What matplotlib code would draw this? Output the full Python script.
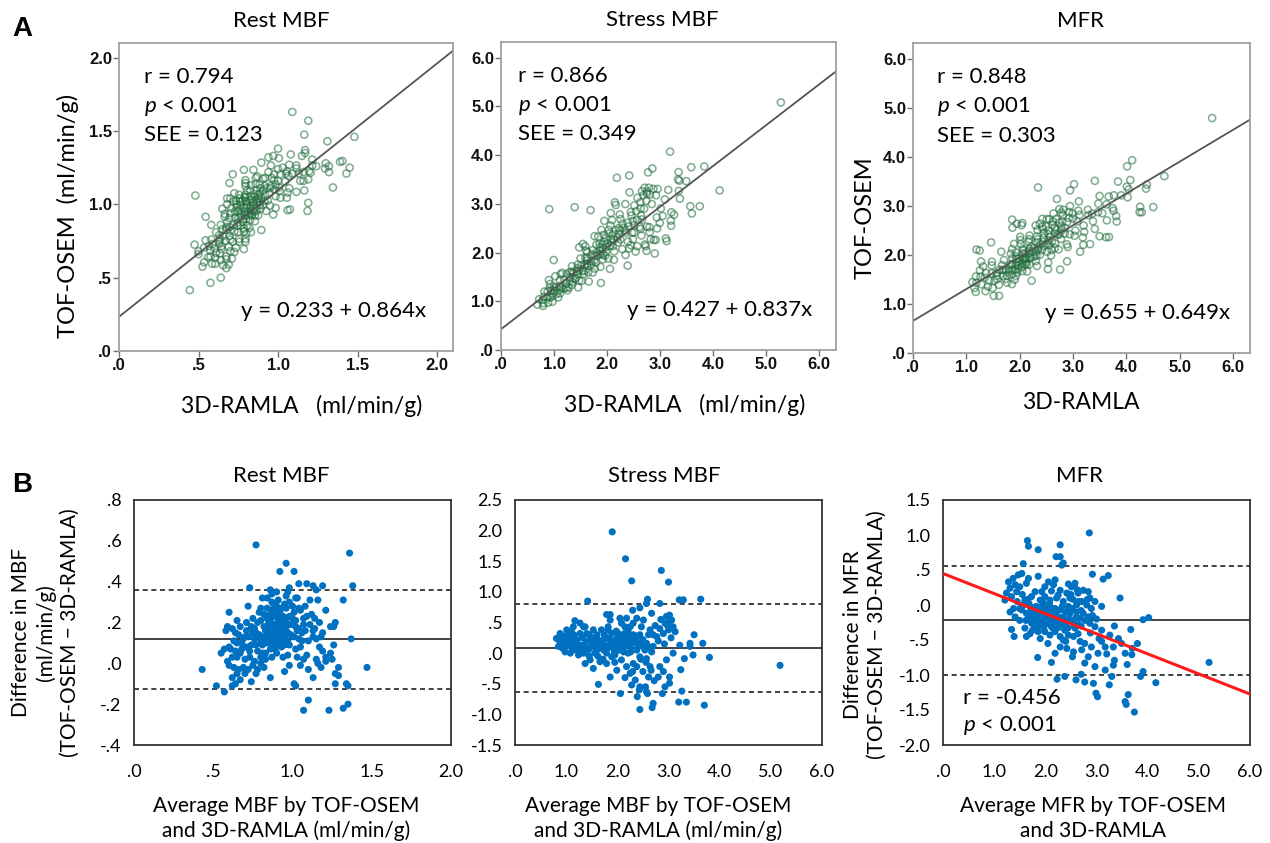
import numpy as np
import matplotlib
matplotlib.use("Agg")
import matplotlib.pyplot as plt

plt.rcParams['font.family'] = ['Lato', 'DejaVu Sans']
plt.rcParams['mathtext.fontset'] = 'custom'
plt.rcParams['mathtext.it'] = 'Lato:italic'
plt.rcParams['mathtext.rm'] = 'Lato'

# (average, difference) pairs
# 3D-RAMLA = avg - diff/2, TOF-OSEM = avg + diff/2
rest_pts = [
    (0.77, 0.58), (1.36, 0.54), (0.96, 0.49), (0.92, 0.45), (1.01, 0.45), (1.04, 0.39), (1.09, 0.39),
    (1.13, 0.38), (1.15, 0.36), (1.19, 0.38), (1.38, 0.38), (0.73, 0.37), (0.86, 0.36), (0.87, 0.34),
    (0.98, 0.37), (0.97, 0.35), (1.02, 0.32), (1.03, 0.32), (1.11, 0.31), (1.16, 0.31), (1.32, 0.31),
    (0.81, 0.32), (0.72, 0.28), (0.88, 0.29), (0.98, 0.30), (1.21, 0.26), (0.60, 0.25), (0.80, 0.27),
    (0.84, 0.27), (0.90, 0.25), (0.92, 0.26), (0.96, 0.27), (1.04, 0.27), (1.01, 0.25), (1.07, 0.22),
    (1.14, 0.22), (1.27, 0.20), (1.26, 0.18), (1.24, 0.18), (0.75, 0.22), (0.80, 0.21), (0.65, 0.21),
    (0.59, 0.18), (0.62, 0.17), (0.58, 0.16), (0.67, 0.18), (0.71, 0.16), (0.74, 0.18), (0.82, 0.18),
    (0.85, 0.20), (0.87, 0.16), (0.90, 0.19), (0.93, 0.17), (0.96, 0.16), (1.00, 0.19), (1.04, 0.17),
    (1.07, 0.19), (1.08, 0.16), (1.13, 0.16), (1.14, 0.17), (1.13, 0.13), (1.18, 0.13), (1.37, 0.12),
    (1.19, 0.15), (0.77, 0.15), (0.81, 0.13), (0.84, 0.15), (0.86, 0.13), (0.88, 0.14), (0.90, 0.12),
    (0.92, 0.15), (0.95, 0.13), (0.97, 0.11), (1.01, 0.13), (0.69, 0.12), (0.72, 0.13), (0.65, 0.10),
    (0.63, 0.11), (0.60, 0.08), (0.57, 0.07), (0.61, 0.07), (0.64, 0.06), (0.68, 0.07), (0.71, 0.08),
    (0.74, 0.09), (0.81, 0.09), (0.85, 0.10), (0.88, 0.09), (0.90, 0.10), (0.93, 0.08), (0.98, 0.09),
    (1.02, 0.07), (1.05, 0.08), (1.09, 0.04), (1.17, 0.08), (1.26, 0.09), (0.55, 0.05), (0.59, 0.01),
    (0.62, 0.03), (0.65, 0.03), (0.67, 0.05), (0.70, 0.02), (0.73, 0.03), (0.76, 0.01), (0.80, 0.03),
    (0.83, 0.02), (0.87, 0.03), (0.90, 0.05), (0.94, 0.03), (0.97, 0.04), (1.03, 0.03), (1.07, 0.02),
    (1.15, 0.02), (1.21, 0.03), (0.43, -0.03), (1.47, -0.02), (0.60, -0.01), (0.63, -0.02), (0.66, -0.03),
    (0.69, -0.02), (0.72, -0.03), (0.75, -0.01), (0.78, -0.03), (0.82, -0.02), (0.86, -0.07), (0.95, -0.04),
    (0.98, -0.01), (1.13, -0.07), (1.18, -0.02), (1.27, -0.05), (1.29, -0.02), (1.29, -0.06), (0.62, -0.07),
    (0.65, -0.05), (0.64, -0.10), (0.62, -0.11), (0.67, -0.08), (0.52, -0.11), (0.57, -0.14), (0.74, -0.09),
    (1.02, -0.11), (1.01, -0.10), (1.27, -0.10), (1.34, -0.10), (1.35, -0.11), (1.10, -0.18), (1.07, -0.23),
    (1.23, -0.23), (1.32, -0.22), (1.35, -0.20), (0.88, 0.23), (0.91, 0.21), (0.94, 0.23), (0.89, 0.18),
    (0.84, 0.22), (0.95, 0.20), (0.92, 0.25), (0.86, 0.24), (0.98, 0.23), (1.02, 0.21), (0.83, 0.16),
    (0.80, 0.11), (0.76, 0.12), (0.88, 0.11), (0.91, 0.09), (0.78, 0.06), (0.83, 0.05), (0.86, 0.07),
    (0.94, 0.11), (0.91, 0.16), (0.97, 0.15), (1.03, 0.16), (1.06, 0.15), (1.10, 0.11), (1.11, 0.19),
    (1.09, 0.23), (1.05, 0.26), (1.00, 0.28), (0.95, 0.29), (0.91, 0.31), (0.87, 0.30), (1.05, -0.01),
    (1.10, -0.03), (1.16, 0.00), (1.21, 0.01), (1.24, 0.05), (1.19, 0.06), (1.25, 0.02),
    (0.78, 0.20), (0.79, 0.14), (0.82, 0.24), (0.83, 0.10), (0.85, 0.17), (0.86, 0.21), (0.87, 0.11),
    (0.88, 0.19), (0.89, 0.26), (0.89, 0.07), (0.90, 0.15), (0.91, 0.23), (0.92, 0.12), (0.93, 0.20),
    (0.93, 0.27), (0.94, 0.15), (0.95, 0.09), (0.96, 0.22), (0.97, 0.19), (0.99, 0.14), (1.00, 0.22),
    (1.02, 0.18), (0.76, 0.17), (0.79, 0.25), (0.84, 0.12), (0.87, 0.26), (0.90, 0.28), (0.95, 0.17),
    (0.98, 0.19), (1.04, 0.12), (0.70, 0.13), (0.73, 0.06), (0.75, 0.15), (0.77, 0.09), (0.81, 0.05),
    (0.68, 0.10), (0.66, 0.14), (0.71, 0.20), (0.64, 0.15), (0.84, 0.32), (0.90, 0.35), (0.96, 0.33),
    (0.80, 0.00), (0.70, -0.05), (0.77, -0.05), (1.12, 0.24), (1.17, 0.20), (1.08, 0.28), (1.06, 0.11),
    (1.15, 0.12),
]

stress_pts = [
    (1.90, 1.98), (2.16, 1.54), (2.86, 1.35), (2.28, 1.18), (3.00, 1.16), (1.42, 0.85), (2.59, 0.88),
    (2.57, 0.81), (2.83, 0.81), (3.21, 0.87), (3.29, 0.87), (3.63, 0.88), (2.30, 0.70), (2.44, 0.74),
    (1.79, 0.63), (1.86, 0.63), (1.17, 0.53), (2.67, 0.65), (2.96, 0.60), (3.02, 0.62), (2.93, 0.49),
    (3.06, 0.54), (3.09, 0.43), (3.00, 0.38), (2.90, 0.32), (2.83, 0.40), (3.13, 0.35), (2.77, 0.27),
    (2.64, 0.38), (2.51, 0.54), (2.31, 0.49), (2.21, 0.35), (2.08, 0.49), (2.25, 0.43), (2.47, 0.43),
    (2.61, 0.30), (3.50, 0.30), (3.67, 0.16), (3.42, 0.16), (3.42, 0.11), (3.80, -0.07), (3.31, -0.09),
    (3.24, -0.27), (3.48, -0.03), (3.22, 0.13), (3.09, 0.00), (2.96, -0.11), (2.83, -0.22), (2.90, -0.30),
    (3.02, -0.39), (2.80, -0.39), (2.93, -0.55), (3.02, -0.49), (2.88, -0.66), (3.26, -0.62), (2.64, -0.22),
    (2.57, -0.09), (2.61, -0.39), (2.39, -0.71), (2.57, -0.63), (2.06, -0.66), (1.63, -0.51), (2.25, -0.33),
    (2.35, -0.44), (2.28, -0.52), (2.44, -0.55), (2.18, -0.22), (1.99, -0.28), (1.86, -0.39), (1.79, -0.17),
    (1.53, -0.25), (1.47, -0.11), (1.37, -0.17), (1.66, -0.14), (1.89, -0.06), (2.08, -0.11), (2.31, -0.17),
    (2.44, -0.06), (2.38, -0.22), (0.88, 0.32), (0.91, 0.24), (0.88, 0.16), (0.93, 0.08), (0.98, 0.02),
    (1.08, 0.27), (1.04, 0.13), (1.14, 0.05), (1.21, 0.21), (1.27, 0.32), (1.34, 0.43), (1.30, 0.13),
    (1.37, 0.05), (1.47, 0.21), (1.50, 0.11), (1.60, 0.30), (1.66, 0.16), (1.73, 0.05), (1.76, 0.27),
    (1.82, 0.38), (1.86, 0.16), (1.92, 0.08), (1.99, 0.24), (2.02, 0.32), (2.05, 0.13), (2.12, 0.02),
    (2.18, 0.21), (2.25, 0.11), (2.35, 0.21), (2.38, 0.05), (2.47, 0.13), (2.54, 0.05), (1.01, 0.38),
    (1.14, 0.43), (1.40, 0.32), (1.53, 0.38), (1.69, 0.38), (1.89, 0.32), (2.08, 0.27), (2.31, 0.30),
    (1.08, 0.00), (1.24, -0.03), (1.34, 0.00), (1.56, 0.00), (1.60, 0.05), (1.79, 0.00), (1.95, -0.03),
    (2.21, 0.00), (0.98, 0.21), (1.17, 0.13), (1.40, 0.19), (1.56, 0.16), (1.73, 0.21), (1.95, 0.16),
    (2.15, 0.11), (2.41, 0.19), (2.57, 0.16), (2.67, 0.02), (2.70, 0.11), (2.44, 0.30), (1.86, 0.54),
    (2.05, 0.57), (2.38, 0.57), (2.18, 0.57), (1.82, 0.43), (2.15, 0.43), (1.37, 0.43), (1.27, 0.49),
    (1.47, 0.27), (0.81, 0.24), (0.85, 0.11), (1.11, 0.21), (1.04, 0.32), (5.18, -0.20), (2.44, -0.92),
    (2.68, -0.89), (2.70, -0.82), (3.70, -0.85), (3.35, -0.80), (3.20, -0.80), (2.59, -0.66), (2.43, -0.60),
    (2.55, -0.55), (1.22, 0.08), (1.44, 0.06), (1.68, 0.10), (1.88, 0.12), (2.00, 0.04), (2.10, 0.18),
    (1.15, 0.30), (1.56, 0.24), (1.98, 0.36), (2.24, 0.26), (1.28, 0.00), (1.62, -0.05), (1.76, 0.12),
    (1.00, 0.15), (1.06, 0.20), (1.10, 0.10), (1.16, 0.25), (1.20, 0.15), (1.25, 0.05), (1.32, 0.25),
    (1.36, 0.12), (1.42, 0.08), (1.45, 0.30), (1.52, 0.18), (1.58, 0.08), (1.62, 0.22), (1.70, 0.15),
    (1.74, 0.30), (1.80, 0.08), (1.84, 0.24), (1.90, 0.20), (1.94, 0.03), (2.00, 0.15), (2.04, 0.25),
    (2.10, 0.08), (2.14, 0.32), (2.20, 0.14), (2.26, 0.02), (2.30, 0.17), (2.36, 0.28), (2.40, 0.10),
    (2.46, -0.10), (2.50, 0.22), (2.56, -0.15), (2.62, 0.10), (2.70, 0.30), (2.74, 0.45), (2.80, 0.20),
    (2.85, 0.55), (2.92, 0.15), (2.98, 0.45), (3.05, 0.25), (3.00, 0.50), (2.30, -0.30), (2.15, -0.40),
    (2.50, -0.30), (2.66, -0.28), (2.72, -0.45), (1.95, -0.15), (1.72, -0.10), (1.45, -0.05), (1.10, 0.35),
    (0.95, 0.28),
]

mfr_pts = [
    (2.86, 1.03), (1.65, 0.92), (1.67, 0.84), (1.86, 0.79), (2.29, 0.86), (2.21, 0.69), (2.29, 0.69),
    (2.32, 0.57), (2.35, 0.60), (1.57, 0.59), (2.92, 0.44), (3.13, 0.37), (3.23, 0.42), (3.46, 0.10),
    (3.91, -0.21), (4.02, -0.18), (3.67, -0.35), (1.85, -0.75), (2.12, -0.82), (2.23, -1.06), (2.38, -1.02),
    (2.60, -1.07), (2.70, -0.99), (2.77, -1.10), (2.94, -1.12), (2.99, -1.26), (3.02, -1.31), (3.25, -1.14),
    (3.30, -1.02), (3.62, -1.28), (3.56, -1.38), (3.58, -1.42), (3.74, -1.53), (3.86, -1.02), (3.91, -0.95),
    (4.16, -1.11), (3.33, -0.86), (3.35, -0.79), (1.34, -0.35), (1.39, -0.45), (1.63, -0.45), (1.28, 0.33),
    (1.37, 0.38), (1.47, 0.43), (1.54, 0.45), (1.41, 0.29), (1.31, 0.24), (1.24, 0.17), (1.21, 0.07),
    (1.34, 0.12), (1.44, 0.19), (1.50, 0.26), (1.63, 0.31), (1.67, 0.38), (1.86, 0.41), (2.06, 0.33),
    (1.99, 0.26), (2.16, 0.29), (2.19, 0.36), (2.12, 0.20), (2.29, 0.21), (2.42, 0.17), (2.51, 0.26),
    (2.58, 0.31), (2.48, 0.10), (1.60, 0.07), (1.73, 0.12), (1.80, 0.19), (1.93, 0.19), (1.90, 0.07),
    (1.99, 0.12), (2.09, 0.07), (2.22, 0.10), (2.35, 0.05), (2.64, 0.17), (2.74, 0.21), (2.84, 0.19),
    (2.87, 0.10), (2.71, 0.05), (2.97, 0.05), (3.10, -0.02), (2.90, -0.05), (2.81, 0.00), (2.61, 0.00),
    (1.54, -0.07), (1.63, -0.12), (1.67, -0.19), (1.73, -0.14), (1.80, -0.22), (1.86, -0.14), (1.93, -0.22),
    (1.96, -0.29), (2.03, -0.17), (2.06, -0.24), (2.12, -0.31), (2.16, -0.17), (2.22, -0.24), (2.29, -0.07),
    (2.35, -0.17), (2.42, -0.24), (2.48, -0.12), (2.55, -0.22), (2.61, -0.10), (2.68, -0.19), (2.74, -0.12),
    (2.84, -0.17), (2.87, -0.26), (1.80, -0.31), (1.86, -0.38), (1.99, -0.38), (2.09, -0.43), (2.19, -0.38),
    (2.29, -0.45), (2.38, -0.36), (2.45, -0.43), (2.58, -0.33), (2.64, -0.41), (1.60, -0.33), (1.70, -0.41),
    (1.50, -0.22), (1.41, -0.17), (1.31, -0.10), (1.57, 0.00), (1.70, -0.02), (1.83, -0.05), (1.93, -0.02),
    (2.06, -0.07), (2.19, -0.05), (1.73, -0.26), (1.90, -0.29), (1.99, -0.26), (2.42, -0.62), (2.55, -0.67),
    (2.77, -0.55), (2.84, -0.74), (2.53, -0.74), (2.90, -0.60), (3.03, -0.69), (3.10, -0.52), (3.17, -0.60),
    (3.26, -0.43), (3.33, -0.60), (3.43, -0.48), (3.49, -0.55), (3.56, -0.69), (3.69, -0.71), (2.97, -0.31),
    (3.10, -0.36), (2.68, -0.52), (2.29, -0.60), (2.19, -0.69), (2.97, -0.88), (2.77, -0.83), (3.17, -0.93),
    (2.71, -0.64), (5.20, -0.82), (3.80, -0.55), (3.60, -0.85), (3.70, -0.62), (1.76, -0.09), (1.89, -0.11),
    (2.01, -0.13), (2.13, -0.10), (2.25, -0.20), (2.02, -0.21), (1.85, -0.26), (2.15, -0.33), (2.32, -0.28),
    (1.95, -0.05), (2.08, 0.02), (1.68, 0.02), (2.45, -0.02), (2.54, 0.08), (2.70, -0.30), (2.40, -0.52),
    (1.72, -0.05), (1.78, -0.17), (1.82, -0.02), (1.88, -0.20), (1.92, -0.10), (1.97, -0.32), (2.00, -0.18),
    (2.04, -0.03), (2.08, -0.27), (2.11, -0.15), (2.15, -0.05), (2.18, -0.24), (2.21, -0.13), (2.26, -0.32),
    (2.30, -0.18), (2.33, -0.02), (2.37, -0.28), (2.40, -0.10), (2.44, -0.33), (2.47, -0.20), (2.52, -0.05),
    (2.56, -0.30), (2.60, -0.18), (2.65, 0.05), (2.70, -0.08), (2.78, -0.22), (2.82, 0.08), (2.92, -0.15),
    (3.00, -0.20), (1.62, -0.22), (1.66, 0.08), (1.75, -0.36), (1.50, -0.05), (1.45, 0.05), (1.38, -0.05),
    (1.55, 0.15), (1.95, 0.04), (2.25, 0.14), (2.55, -0.45), (2.65, -0.28), (3.05, -0.48), (3.20, -0.70),
    (2.45, 0.30), (2.50, 0.15), (2.62, 0.22), (2.88, -0.40), (2.35, -0.50), (2.05, -0.55), (1.90, -0.48),
    (3.35, -0.30),
]

titles = ["Rest MBF", "Stress MBF", "MFR"]
fit_a = [(0.233, 0.864), (0.427, 0.837), (0.655, 0.649)]
r_a = ["0.794", "0.866", "0.848"]
see_a = ["0.123", "0.349", "0.303"]
lim_a = [2.1, 6.32, 6.32]
ticks_a = [np.arange(0, 2.01, 0.5), np.arange(0, 6.01, 1.0), np.arange(0, 6.01, 1.0)]

ba_mean = [0.12, 0.09, -0.22]
ba_loa = [(0.36, -0.125), (0.81, -0.64), (0.56, -1.0)]
ba_xlim = [2.0, 6.0, 6.0]
ba_ylim = [(-0.4, 0.8), (-1.5, 2.5), (-2.0, 1.5)]
ba_ystep = [0.2, 0.5, 0.5]
ba_xstep = [0.5, 1.0, 1.0]
mfr_trend = (0.45, -0.287)


def lab(v):
    s = f"{v:.1f}"
    if s.startswith("0.") or s.startswith("-0."):
        s = s.replace("0.", ".", 1)
    return s


W, H = 1270, 843


def rect(l, t, r, b):
    return [l / W, (H - b) / H, (r - l) / W, (b - t) / H]


fig = plt.figure(figsize=(12.7, 8.43), dpi=100)

a_boxes = [rect(119, 43, 453, 351), rect(501, 42, 836, 350), rect(913, 43, 1250, 353)]
b_boxes = [rect(134, 500, 451, 745), rect(515, 500, 822, 745), rect(943, 500, 1250, 745)]

all_pts = [rest_pts, stress_pts, mfr_pts]

green = '#1e6b3a'

for i in range(3):
    pts = np.array(all_pts[i])
    avg, diff = pts[:, 0], pts[:, 1]
    ramla = avg - diff / 2
    osem = avg + diff / 2

    # ---- panel A ----
    ax = fig.add_axes(a_boxes[i])
    ax.scatter(ramla, osem, s=26, facecolors='none', edgecolors=green, linewidths=1.15, alpha=0.55)
    b0, b1 = fit_a[i]
    xx = np.array([0, lim_a[i]])
    ax.plot(xx, b0 + b1 * xx, color='#555555', lw=1.3)
    ax.set_xlim(0, lim_a[i])
    ax.set_ylim(0, lim_a[i])
    ax.set_xticks(ticks_a[i])
    ax.set_yticks(ticks_a[i])
    ax.set_xticklabels([lab(v) for v in ticks_a[i]], fontfamily='Liberation Sans', fontsize=12,
                       fontweight='bold')
    ax.set_yticklabels([lab(v) for v in ticks_a[i]], fontfamily='Liberation Sans', fontsize=12,
                       fontweight='bold')
    ax.tick_params(direction='out', length=4, width=1, color='#707070', pad=1, labelcolor='#111111')
    for sp in ax.spines.values():
        sp.set_color('#a0a0a0')
        sp.set_linewidth(1.3)
    ax.text([0.487, 0.48, 0.496][i], 1.072, titles[i],
            transform=ax.transAxes, ha='center', va='center', fontsize=16)
    xl = [0.075, 0.05, 0.07][i]
    ax.text(xl, 0.89, "r = " + r_a[i], transform=ax.transAxes, ha='left', va='center', fontsize=16)
    ax.text(xl, 0.795, "$p$ < 0.001", transform=ax.transAxes, ha='left', va='center', fontsize=16)
    ax.text(xl, 0.70, "SEE = " + see_a[i], transform=ax.transAxes, ha='left', va='center', fontsize=16)
    ax.text([0.92, 0.93, 0.94][i], 0.13, f"y = {b0:.3f} + {b1:.3f}x", transform=ax.transAxes,
            ha='right', va='center', fontsize=16)
    if i < 2:
        ax.text([0.548, 0.549][i], -0.177, "3D-RAMLA   (ml/min/g)", transform=ax.transAxes,
                ha='center', va='center', fontsize=16.5)
    else:
        ax.text(0.498, -0.161, "3D-RAMLA", transform=ax.transAxes, ha='center', va='center', fontsize=16.5)
    if i == 0:
        ax.text(-0.153, 0.44, "TOF-OSEM  (ml/min/g)", transform=ax.transAxes, rotation=90,
                ha='center', va='center', fontsize=17)
    if i == 2:
        ax.text(-0.142, 0.435, "TOF-OSEM", transform=ax.transAxes, rotation=90,
                ha='center', va='center', fontsize=17)

    # ---- panel B ----
    bx = fig.add_axes(b_boxes[i])
    bx.scatter(avg, diff, s=26, color='#0070c0', edgecolors='none', zorder=3)
    bx.axhline(ba_mean[i], color='#222222', lw=1.2, zorder=2)
    for v in ba_loa[i]:
        bx.axhline(v, color='#222222', lw=1.2, ls=(0, (3, 2.2)), zorder=2)
    if i == 2:
        t0, t1 = mfr_trend
        xx = np.array([0, ba_xlim[i]])
        bx.plot(xx, t0 + t1 * xx, color='#ff1a1a', lw=2.2, zorder=4)
        bx.text(0.064, 0.19, "r = -0.456", transform=bx.transAxes, ha='left', va='center', fontsize=16)
        bx.text(0.064, 0.078, "$p$ < 0.001", transform=bx.transAxes, ha='left', va='center', fontsize=16)
    bx.set_xlim(0, ba_xlim[i])
    lo, hi = ba_ylim[i]
    bx.set_ylim(lo, hi)
    xt = np.arange(0, ba_xlim[i] + 1e-6, ba_xstep[i])
    yt = np.arange(lo, hi + 1e-6, ba_ystep[i])
    bx.set_xticks(xt)
    bx.set_yticks(yt)
    bx.set_xticklabels([lab(v) for v in xt], fontsize=13)
    bx.set_yticklabels([lab(v) for v in yt], fontsize=13)
    bx.tick_params(length=0, pad=14)
    bx.tick_params(axis='y', pad=9)
    for sp in bx.spines.values():
        sp.set_color('#333333')
        sp.set_linewidth(1.3)
    bx.text([0.466, 0.485, 0.446][i], 1.10, titles[i], transform=bx.transAxes,
            ha='center', va='center', fontsize=16)
    unit = "" if i == 2 else " (ml/min/g)"
    what = "MFR" if i == 2 else "MBF"
    bx.text([0.48, 0.467, 0.489][i], -0.30, f"Average {what} by TOF-OSEM\nand 3D-RAMLA{unit}",
            transform=bx.transAxes, ha='center', va='center', fontsize=15, linespacing=1.3)
    if i == 0:
        bx.text(-0.279, 0.46, "Difference in MBF\n(ml/min/g)\n(TOF-OSEM \u2212 3D-RAMLA)",
                transform=bx.transAxes, rotation=90, ha='center', va='center', fontsize=15,
                linespacing=1.25, multialignment='center')
    if i == 2:
        bx.text(-0.254, 0.45, "Difference in MFR\n(TOF-OSEM \u2212 3D-RAMLA)",
                transform=bx.transAxes, rotation=90, ha='center', va='center', fontsize=15,
                linespacing=1.25, multialignment='center')

fig.text(22.5 / W, 1 - 29 / H, "A", fontfamily='Liberation Sans', fontweight='bold', fontsize=20,
         ha='center', va='center')
fig.text(22 / W, 1 - 485 / H, "B", fontfamily='Liberation Sans', fontweight='bold', fontsize=20,
         ha='center', va='center')

fig.savefig("out.png", dpi=100)
